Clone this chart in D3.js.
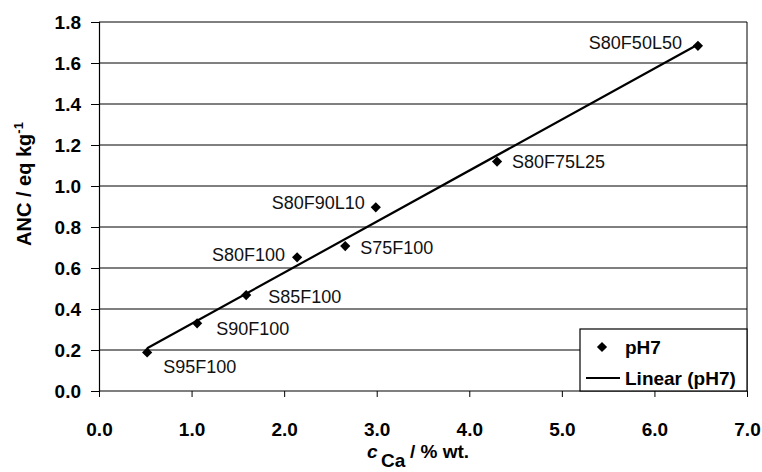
<!DOCTYPE html>
<html>
<head>
<meta charset="utf-8">
<script src="https://cdn.jsdelivr.net/npm/d3@7"></script>
<style>
  body { margin: 0; background: #fff; }
  text { font-family: "Liberation Sans", Arial, sans-serif; fill: #000; }
</style>
</head>
<body>
<div id="viz"></div>
<script>
// data
const samples = ["S95F100", "S90F100", "S85F100", "S80F100", "S75F100", "S80F90L10", "S80F75L25", "S80F50L50"];
const cCa = [0.52, 1.06, 1.59, 2.14, 2.66, 2.99, 4.30, 6.47];
const anc = [0.188, 0.330, 0.468, 0.652, 0.707, 0.896, 1.119, 1.684];
const xTicks = [0, 1, 2, 3, 4, 5, 6, 7];
const yTicks = [0, 0.2, 0.4, 0.6, 0.8, 1.0, 1.2, 1.4, 1.6, 1.8];

// where each point label sits relative to its marker
const labelPlace = {
  "S95F100":   {anchor: "start", dx: 16, dy: 21},
  "S90F100":   {anchor: "start", dx: 19, dy: 12},
  "S85F100":   {anchor: "start", dx: 22, dy: 8},
  "S80F100":   {anchor: "end",   dx: -12, dy: 4},
  "S75F100":   {anchor: "start", dx: 15, dy: 8},
  "S80F90L10": {anchor: "end",   dx: -11, dy: 2},
  "S80F75L25": {anchor: "start", dx: 15, dy: 6},
  "S80F50L50": {anchor: "end",   dx: -16, dy: 3}
};

const width = 762, height = 472;
const plot = {left: 99, right: 747, top: 22, bottom: 391};

const svg = d3.select("#viz").append("svg")
  .attr("width", width)
  .attr("height", height);

const x = d3.scaleLinear().domain([0, 7]).range([plot.left, plot.right]);
const y = d3.scaleLinear().domain([0, 1.8]).range([plot.bottom, plot.top]);

const points = samples.map((s, i) => ({name: s, x: cCa[i], y: anc[i]}));

// horizontal grid lines
svg.append("g")
  .selectAll("line")
  .data(yTicks.slice(1))
  .enter().append("line")
  .attr("x1", plot.left).attr("x2", plot.right)
  .attr("y1", d => y(d)).attr("y2", d => y(d))
  .attr("stroke", "#000").attr("stroke-width", 1);

// right border
svg.append("line")
  .attr("x1", plot.right).attr("x2", plot.right)
  .attr("y1", plot.top).attr("y2", plot.bottom)
  .attr("stroke", "#000");

// axes
const yAxis = svg.append("g")
  .attr("transform", "translate(" + plot.left + ",0)")
  .call(d3.axisLeft(y).tickValues(yTicks).tickFormat(d3.format(".1f")).tickSize(8).tickPadding(10));

const xAxis = svg.append("g")
  .attr("transform", "translate(0," + plot.bottom + ")")
  .call(d3.axisBottom(x).tickValues(xTicks).tickFormat(d3.format(".1f")).tickSize(6).tickPadding(26));

[xAxis, yAxis].forEach(a => {
  a.select(".domain").attr("stroke", "#000").attr("stroke-width", 1.2);
  a.selectAll(".tick line").attr("stroke", "#000");
  a.selectAll("text").attr("font-size", 19).attr("font-weight", "bold")
    .attr("font-family", "'Liberation Sans', Arial, sans-serif");
});
// keep the x domain plain, no outer ticks
xAxis.select(".domain").attr("d", "M" + plot.left + ",0H" + plot.right);

// linear trend line (least squares on the points)
const mx = d3.mean(cCa), my = d3.mean(anc);
const slope = d3.sum(cCa, (v, i) => (v - mx) * (anc[i] - my)) / d3.sum(cCa, v => (v - mx) * (v - mx));
const icpt = my - slope * mx;
const xExt = d3.extent(cCa);
svg.append("path")
  .datum(xExt.map(v => ({x: v, y: icpt + slope * v})))
  .attr("d", d3.line().x(d => x(d.x)).y(d => y(d.y)))
  .attr("fill", "none")
  .attr("stroke", "#000")
  .attr("stroke-width", 2.2);

// markers
const diamond = d3.symbol(d3.symbolSquare, 52);
svg.append("g")
  .selectAll("path")
  .data(points)
  .enter().append("path")
  .attr("d", diamond)
  .attr("transform", d => "translate(" + x(d.x) + "," + y(d.y) + ") rotate(45)")
  .attr("fill", "#000");

// point labels
svg.append("g")
  .selectAll("text")
  .data(points)
  .enter().append("text")
  .attr("x", d => x(d.x) + labelPlace[d.name].dx)
  .attr("y", d => y(d.y) + labelPlace[d.name].dy)
  .attr("text-anchor", d => labelPlace[d.name].anchor)
  .attr("font-size", 18)
  .style("fill", "#111")
  .text(d => d.name);

// y label
const yl = svg.append("text")
  .attr("transform", "translate(31," + 184 + ") rotate(-90)")
  .attr("text-anchor", "middle")
  .attr("font-size", 20)
  .attr("font-weight", "bold");
yl.append("tspan").text("ANC / eq kg");
yl.append("tspan").attr("dy", -8).attr("font-size", 13).text("-1");

// x label
const xl = svg.append("text")
  .attr("font-size", 19)
  .attr("font-weight", "bold");
xl.append("tspan").attr("x", 367).attr("y", 458).attr("font-style", "italic").text("c");
xl.append("tspan").attr("x", 381).attr("y", 467).text("Ca");
xl.append("tspan").attr("x", 410).attr("y", 458).text("/ % wt.");

// legend
const lg = svg.append("g");
lg.append("rect")
  .attr("x", 580).attr("y", 329)
  .attr("width", plot.right - 580).attr("height", plot.bottom - 329)
  .attr("fill", "#fff").attr("stroke", "#000").attr("stroke-width", 1.2);
lg.append("path")
  .attr("d", diamond)
  .attr("transform", "translate(602,347) rotate(45)")
  .attr("fill", "#000");
lg.append("text").attr("x", 625).attr("y", 354)
  .attr("font-size", 19).attr("font-weight", "bold").text("pH7");
lg.append("line")
  .attr("x1", 586).attr("x2", 620).attr("y1", 378).attr("y2", 378)
  .attr("stroke", "#000").attr("stroke-width", 2.2);
lg.append("text").attr("x", 625).attr("y", 385)
  .attr("font-size", 19).attr("font-weight", "bold").text("Linear (pH7)");
</script>
</body>
</html>
